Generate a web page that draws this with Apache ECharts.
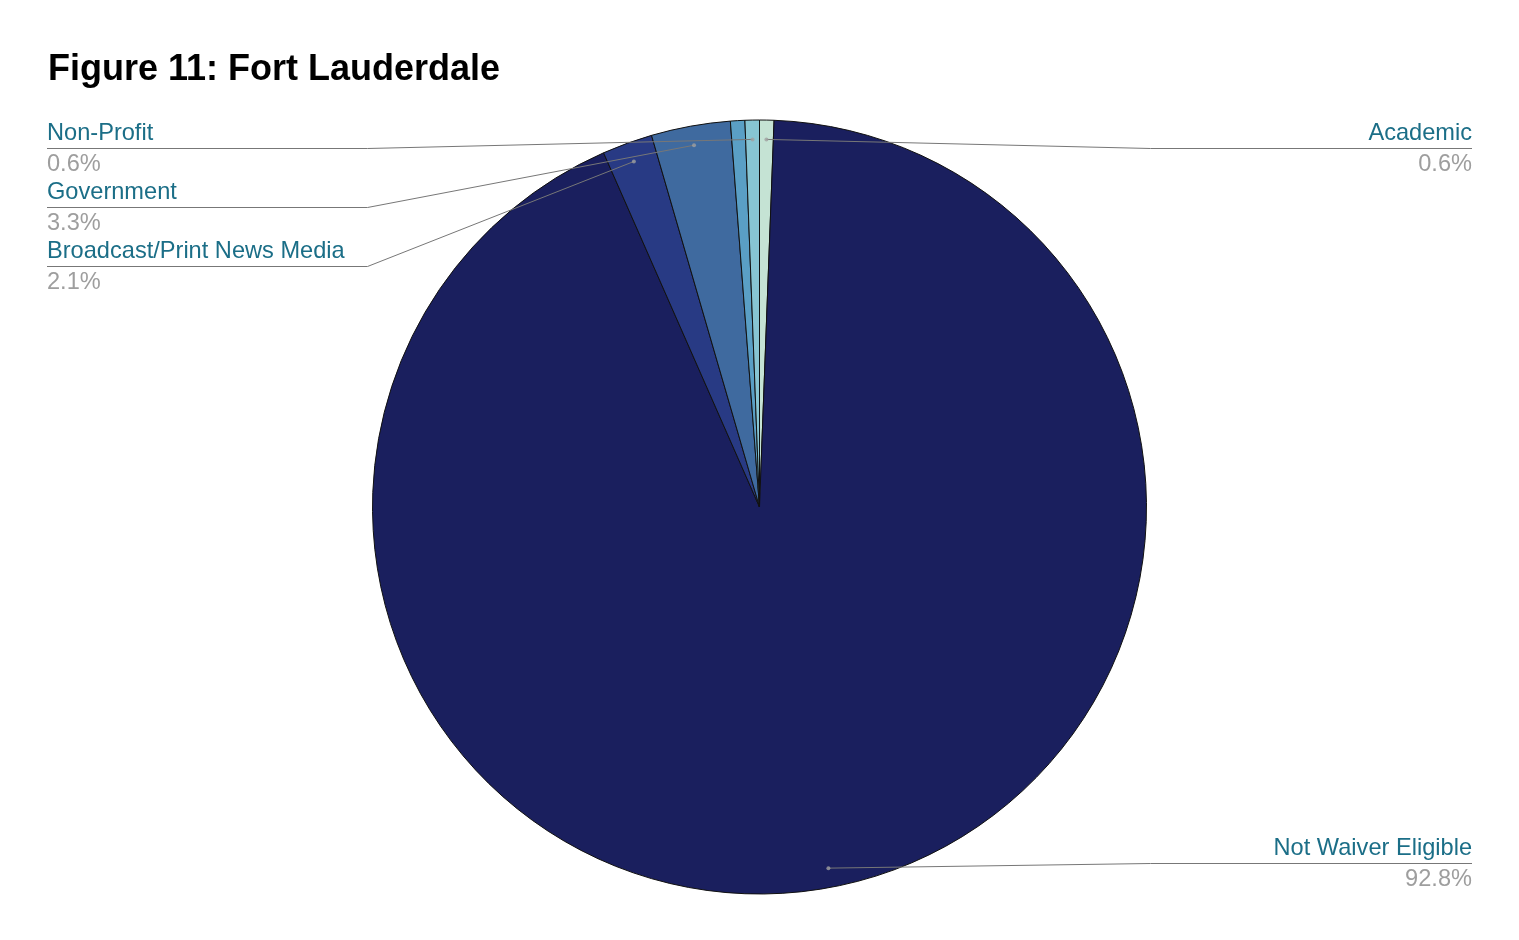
<!DOCTYPE html>
<html>
<head>
<meta charset="utf-8">
<style>
  html, body { margin: 0; padding: 0; background: #ffffff; }
  #chart { width: 1519px; height: 940px; }
</style>
<script src="https://cdn.jsdelivr.net/npm/echarts@6/dist/echarts.min.js"></script>
</head>
<body>
<div id="chart"></div>
<script>
// ---- data (clockwise from 12 o'clock) ----
var categories = ['Academic', 'Not Waiver Eligible', 'Broadcast/Print News Media', 'Government', 'Other', 'Non-Profit'];
var values     = [0.6, 92.8, 2.1, 3.3, 0.6, 0.6];
var showLabel  = [true, true, true, true, false, true];
var colors     = ['#c5e3d4', '#1a1f5e', '#283a84', '#3f6a9f', '#5a9fc5', '#87c5d3'];

// ---- layout constants ----
var W = 1519;
var CX = W / 2, CY = 507, R = 387;
var LEFT_EDGE = 47, RIGHT_EDGE = 1472;
var DOT_FRAC = 0.95;
var ROW = 59;
var FONT = "'Liberation Sans', Arial, sans-serif";

var total = values.reduce(function (a, b) { return a + b; }, 0);

// mid angle (in value units) of each slice
var mids = [];
(function () {
  var acc = 0;
  for (var i = 0; i < values.length; i++) {
    mids.push(acc + values[i] / 2);
    acc += values[i];
  }
})();

// dot positions & label rows
var dots = mids.map(function (m) {
  var th = m / total * 2 * Math.PI;
  return [CX + DOT_FRAC * R * Math.sin(th), CY - DOT_FRAC * R * Math.cos(th)];
});
var labelY = {};
['left', 'right'].forEach(function (side) {
  var idx = [];
  for (var i = 0; i < values.length; i++) {
    if (!showLabel[i]) continue;
    var isLeft = dots[i][0] < CX;
    if ((side === 'left') === isLeft) idx.push(i);
  }
  idx.sort(function (a, b) { return dots[a][1] - dots[b][1]; });
  var minY = CY - R + 28, maxY = CY + R - 31;
  var prev = -Infinity;
  idx.forEach(function (i) {
    var y = Math.round(Math.min(Math.max(dots[i][1], minY), maxY));
    if (y < prev + ROW) y = prev + ROW;
    labelY[i] = y;
    prev = y;
  });
});

var pieData = categories.map(function (c, i) {
  return { name: c, value: values[i], itemStyle: { color: colors[i] } };
});
var labelData = categories.map(function (c, i) {
  var d = { name: c, value: values[i] };
  if (!showLabel[i]) {
    d.label = { show: false };
    d.labelLine = { show: false };
  }
  return d;
});

var dotData = [];
for (var i = 0; i < values.length; i++) {
  if (showLabel[i]) dotData.push([DOT_FRAC, mids[i]]);
}

var chart = echarts.init(document.getElementById('chart'), null, { renderer: 'canvas' });
chart.setOption({
  backgroundColor: '#ffffff',
  animation: false,
  title: {
    text: 'Figure 11: Fort Lauderdale',
    left: 43,
    top: 47,
    textStyle: { fontFamily: FONT, fontSize: 36, fontWeight: 'bold', color: '#000000' }
  },
  polar: { center: [CX, CY], radius: R },
  angleAxis: { type: 'value', min: 0, max: total, startAngle: 90, clockwise: true, show: false },
  radiusAxis: { type: 'value', min: 0, max: 1, show: false },
  series: [
    {
      type: 'pie',
      center: [CX, CY],
      radius: R,
      startAngle: 90,
      clockwise: true,
      data: pieData,
      itemStyle: { borderColor: '#111111', borderWidth: 1 },
      label: { show: false },
      labelLine: { show: false },
      emphasis: { disabled: true },
      silent: true,
      z: 2
    },
    {
      type: 'pie',
      center: [CX, CY],
      radius: R,
      startAngle: 90,
      clockwise: true,
      avoidLabelOverlap: false,
      percentPrecision: 1,
      data: labelData,
      itemStyle: { color: 'rgba(0,0,0,0)', borderWidth: 0 },
      label: {
        show: true,
        position: 'outside',
        formatter: '{n|{b}}\n{v|{d}%}',
        rich: {
          n: { color: '#1b6e87', fontSize: 23.6, lineHeight: 30, fontFamily: FONT },
          v: { color: '#9e9e9e', fontSize: 23.6, lineHeight: 31, fontFamily: FONT }
        }
      },
      labelLine: {
        show: true,
        smooth: false,
        lineStyle: { color: '#777777', width: 1 }
      },
      labelLayout: function (p) {
        var i = p.dataIndex;
        if (labelY[i] === undefined) return {};
        var y = labelY[i];
        var ly = y + 0.5;
        var isLeft = dots[i][0] < CX;
        var edgeX = isLeft ? LEFT_EDGE : RIGHT_EDGE;
        var kneeX = isLeft ? CX - R - 5 : CX + R + 4;
        return {
          x: edgeX,
          y: y + 1,
          align: isLeft ? 'left' : 'right',
          verticalAlign: 'middle',
          labelLinePoints: [dots[i].slice(), [kneeX, ly], [edgeX, ly]]
        };
      },
      emphasis: { disabled: true },
      silent: true,
      z: 4
    },
    {
      type: 'scatter',
      coordinateSystem: 'polar',
      data: dotData,
      symbol: 'circle',
      symbolSize: 4,
      itemStyle: { color: '#a0a0a0' },
      silent: true,
      z: 6
    }
  ]
});
</script>
</body>
</html>
